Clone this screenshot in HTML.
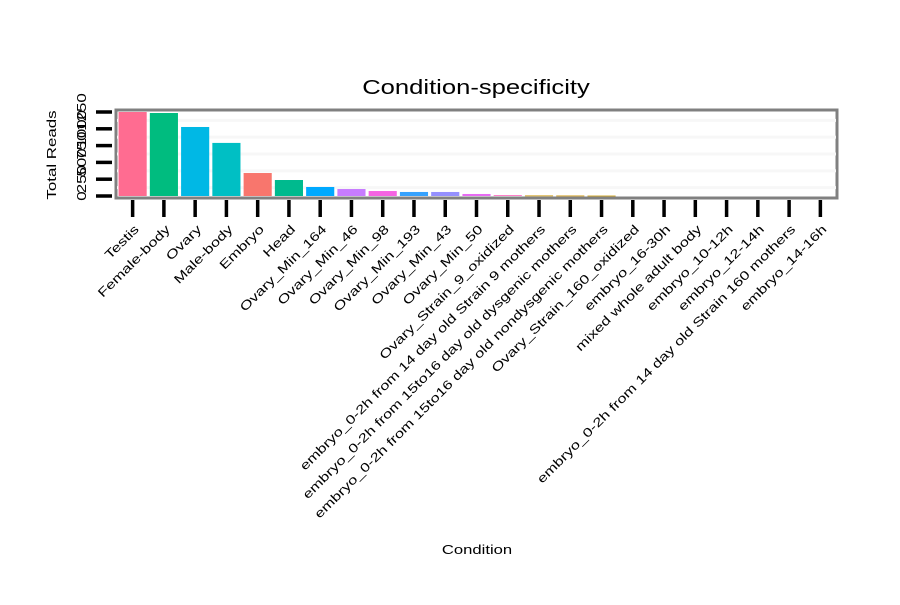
<!DOCTYPE html>
<html><head><meta charset="utf-8"><style>
body{margin:0;background:#fff;font-family:"Liberation Sans",sans-serif}
</style></head><body>
<svg width="900" height="600" xmlns="http://www.w3.org/2000/svg" font-family="Liberation Sans, sans-serif">
<text transform="translate(476,94) scale(1.28,1)" font-size="20" text-anchor="middle">Condition-specificity</text>
<text transform="translate(477,554) scale(1.28,1)" font-size="13" text-anchor="middle">Condition</text>
<text transform="translate(56,155) rotate(-90) scale(1.3,1)" font-size="13" text-anchor="middle">Total Reads</text>
<rect x="116" y="110" width="721" height="88" fill="#fff" stroke="#808080" stroke-width="3"/>
<g id="grid"></g><g id="bars"></g><g id="yaxis"></g><g id="xaxis"></g>
</svg>
<script>
const categories=["Testis","Female-body","Ovary","Male-body","Embryo","Head","Ovary_Min_164","Ovary_Min_46","Ovary_Min_98","Ovary_Min_193","Ovary_Min_43","Ovary_Min_50","Ovary_Strain_9_oxidized","embryo_0-2h from 14 day old Strain 9 mothers","embryo_0-2h from 15to16 day old dysgenic mothers","embryo_0-2h from 15to16 day old nondysgenic mothers","Ovary_Strain_160_oxidized","embryo_16-30h","mixed whole adult body","embryo_10-12h","embryo_12-14h","embryo_0-2h from 14 day old Strain 160 mothers","embryo_14-16h"];
const values=[1250,1235,1027,790,342,238,134,104,74,60,60,30,12,8,7,6,0,0,0,0,0,0,0];
const colors=["#FF6C91","#00BC7F","#00B8E5","#00BFC4","#F8766D","#00BA8E","#00A9FF","#C77CFF","#F564E3","#35A2FF","#9590FF","#E76BF3","#FF62BC","#CD9600","#D09400","#C99800","#ccc","#ccc","#ccc","#ccc","#ccc","#ccc","#ccc"];
const yTicks=[0,250,500,750,1000,1250];
const NS="http://www.w3.org/2000/svg";
const x0=117,x1=836,yb=196,yt=112,ymax=1250;
const bw=(x1-x0)/categories.length;
const X=i=>x0+bw*(i+0.5);
const Y=v=>yb-(v/ymax)*(yb-yt);
function mk(t,a,p){const e=document.createElementNS(NS,t);for(const k in a)e.setAttribute(k,a[k]);document.getElementById(p).appendChild(e);return e;}
for(let k=0;k<yTicks.length-1;k++){
 const g=mk('rect',{x:x0,y:Y((yTicks[k]+yTicks[k+1])/2)-1.5,width:x1-x0,height:3,fill:'#f7f7f7'},'grid');
 
 
}
values.forEach((v,i)=>{
 const h=yb-Y(v); if(h<=0) return;
 const r=mk('rect',{x:X(i)-bw*0.45,y:Y(v),width:bw*0.9,height:Math.max(h,0.8),fill:colors[i]},'bars');
 
 
});
yTicks.forEach(t=>{
 const l=mk('line',{x1:96,x2:112,y1:Y(t),y2:Y(t),stroke:'#000','stroke-width':3.5},'yaxis');
 
 
 const tx=mk('text',{transform:`translate(86,${Y(t)}) rotate(-90) scale(1.3,1)`,'font-size':13,'text-anchor':'middle'},'yaxis');
 tx.textContent=t;
 
 
});
categories.forEach((c,i)=>{
 const l=mk('line',{x1:X(i),x2:X(i),y1:200,y2:217,stroke:'#000','stroke-width':3.5},'xaxis');
 
 
 const tx=mk('text',{transform:`translate(${X(i)+7},${230}) rotate(-45) scale(1.32,1)`,'font-size':12.5,'text-anchor':'end'},'xaxis');
 tx.textContent=c;
 
 
});
</script>
</body></html>
